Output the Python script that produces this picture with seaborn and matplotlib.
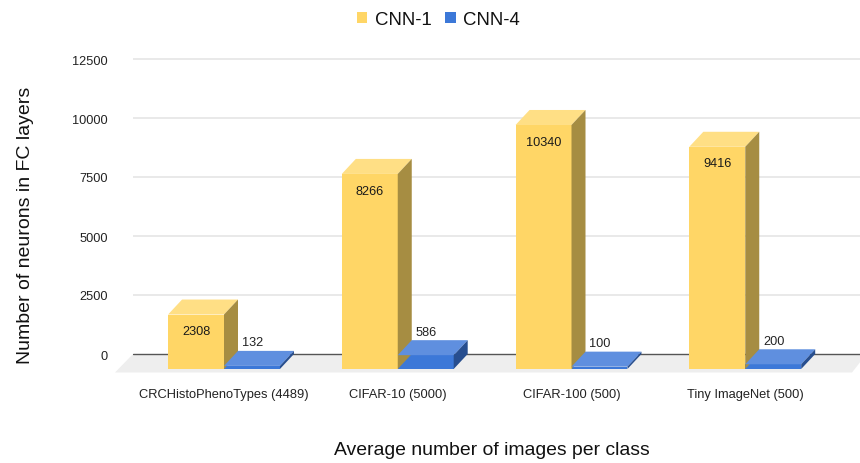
import matplotlib
matplotlib.use("Agg")
import matplotlib.pyplot as plt
from matplotlib.patches import Polygon, Rectangle
import pandas as pd
import seaborn as sns

categories = ["CRCHistoPhenoTypes (4489)", "CIFAR-10 (5000)", "CIFAR-100 (500)", "Tiny ImageNet (500)"]
cnn1 = [2308, 8266, 10340, 9416]
cnn4 = [132, 586, 100, 200]
yticks = [0, 2500, 5000, 7500, 10000, 12500]
series_names = ["CNN-1", "CNN-4"]

W, H = 860, 464
PX_Y = 0.0236      # pixels per data unit
PX_X = 173.75      # pixels per category
Y0_PX = 355.0
X0_PX = 224.0
AX_L, AX_R, AX_T, AX_B = 133, 860, 52, 378
DEPTH_PX_X, DEPTH_PX_Y = 14.0, 15.0
dx = DEPTH_PX_X / PX_X
dy = DEPTH_PX_Y / PX_Y

palette = {"CNN-1": "#FFD666", "CNN-4": "#3C78D8"}
tops = {"CNN-1": "#FFDF85", "CNN-4": "#5F8FDF"}
sides = {"CNN-1": "#A68D42", "CNN-4": "#274E8F"}

sns.set_theme(style="white")
plt.rcParams["font.family"] = ["Liberation Sans", "DejaVu Sans"]

df = pd.DataFrame({
    "category": categories * 2,
    "series": [series_names[0]] * 4 + [series_names[1]] * 4,
    "value": cnn1 + cnn4,
})

fig = plt.figure(figsize=(W / 100, H / 100), dpi=100)
ax = fig.add_axes([AX_L / W, 1 - AX_B / H, (AX_R - AX_L) / W, (AX_B - AX_T) / H])
sns.barplot(data=df, x="category", y="value", hue="series", order=categories,
            hue_order=series_names, palette=palette, width=0.644, gap=0, dodge=True,
            saturation=1, legend=False, ax=ax, linewidth=0, zorder=3)

ax.set_xlim((AX_L - X0_PX) / PX_X, (AX_R - X0_PX) / PX_X)
ax.set_ylim((Y0_PX - AX_B) / PX_Y, (Y0_PX - AX_T) / PX_Y)
ax.set_yticks(yticks)
ax.set_yticklabels([str(t) for t in yticks], fontsize=9.2, color="#222222")
ax.tick_params(axis="y", length=0, pad=18.3)
ax.tick_params(axis="x", length=0, pad=8)
ax.set_xticks(range(len(categories)))
ax.set_xticklabels(categories, fontsize=9.3, color="#222222")
for s in ax.spines.values():
    s.set_visible(False)

ax.set_axisbelow(True)
ax.yaxis.grid(True, color="#E3E3E3", lw=1.1)
ax.xaxis.grid(False)
ax.yaxis.get_gridlines()[0].set_color("#555555")
ax.yaxis.get_gridlines()[0].set_linewidth(1.0)

# floor plane
xl, xr = ax.get_xlim()
floor_dy = 18.5 / PX_Y
floor_dx = 18 / PX_X
ax.add_patch(Polygon([(xl, 0), (xr, 0), (xr, -floor_dy * 0.45), (xr - 8 / PX_X, -floor_dy),
                      (xl - floor_dx, -floor_dy)],
                     closed=True, facecolor="#EEEEEE", edgecolor="none", zorder=0.4, clip_on=False))

# extrude each seaborn bar into a 3D-looking box
for name, container, values in zip(series_names, ax.containers, [cnn1, cnn4]):
    for patch, val in zip(container.patches, values):
        x, w = patch.get_x(), patch.get_width()
        patch.set_y(-dy)
        patch.set_height(val)
        top = val - dy
        z = patch.get_zorder()
        ax.add_patch(Polygon([(x, top), (x + w, top), (x + w + dx, top + dy), (x + dx, top + dy)],
                             closed=True, facecolor=tops[name], edgecolor="none", zorder=z))
        ax.add_patch(Polygon([(x + w, -dy), (x + w + dx, 0), (x + w + dx, top + dy), (x + w, top)],
                             closed=True, facecolor=sides[name], edgecolor="none", zorder=z))
        if name == "CNN-1":
            ax.annotate(str(val), (x + w / 2, top), xytext=(0, -12), textcoords="offset points",
                        ha="center", va="center", fontsize=9.2, color="#1A1A1A", zorder=6)
        else:
            ax.annotate(str(val), (x + w / 2, top + dy), xytext=(0.5, 6.2), textcoords="offset points",
                        ha="center", va="center", fontsize=9.2, color="#222222", zorder=6)

ax.set_xlabel("")
ax.set_ylabel("")
fig.text(492 / W, 1 - 451 / H, "Average number of images per class", ha="center", va="center",
         fontsize=13.95, color="#111111")
fig.text(26 / W, 1 - 225 / H, "Number of neurons in FC layers", ha="center", va="center",
         rotation=90, fontsize=14, color="#111111")

handles = [Rectangle((0, 0), 1, 1, facecolor=palette[n], edgecolor="none") for n in series_names]
fig.legend(handles, series_names, ncol=2, loc="center", bbox_to_anchor=(438.5 / W, 1 - 20.5 / H),
           frameon=False, fontsize=13.4, handlelength=0.54, handleheight=0.54,
           handletextpad=0.4, columnspacing=0.75, labelcolor="#111111", borderpad=0)

fig.savefig("out.png", dpi=100)
